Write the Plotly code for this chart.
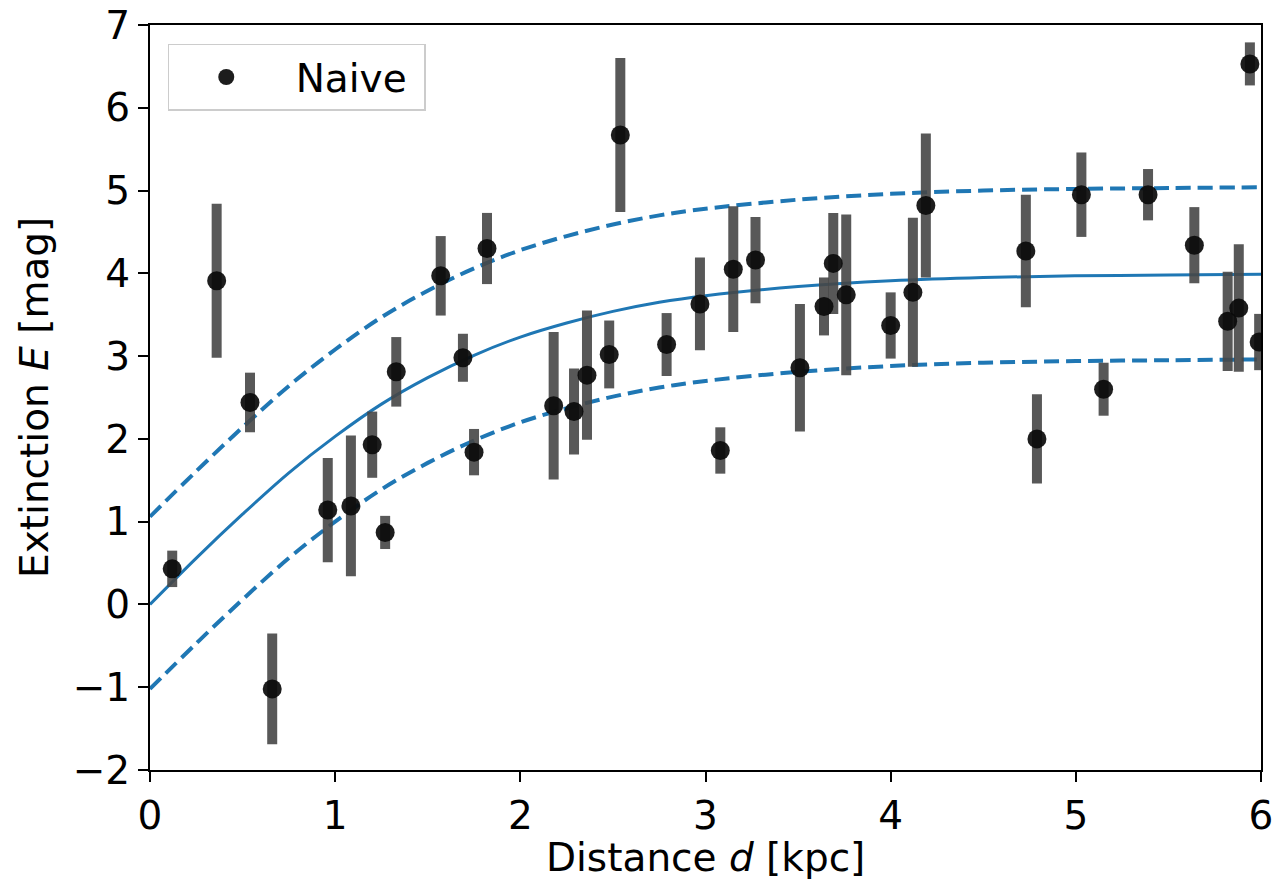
import plotly.graph_objects as go

# Observations (distance kpc, extinction mag, symmetric error)
dist = [0.12, 0.36, 0.54, 0.66, 0.96, 1.085, 1.20, 1.27, 1.33, 1.57, 1.69, 1.75, 1.82,
        2.18, 2.29, 2.36, 2.48, 2.54, 2.79, 2.97, 3.08, 3.15, 3.27, 3.51, 3.64, 3.69,
        3.76, 4.00, 4.12, 4.19, 4.73, 4.79, 5.03, 5.15, 5.39, 5.64, 5.82, 5.88, 5.94, 5.99]
ext = [0.43, 3.91, 2.44, -1.02, 1.14, 1.19, 1.93, 0.87, 2.81, 3.97, 2.98, 1.84, 4.30,
       2.40, 2.33, 2.77, 3.02, 5.67, 3.14, 3.63, 1.86, 4.05, 4.16, 2.86, 3.60, 4.12,
       3.74, 3.37, 3.77, 4.82, 4.27, 2.00, 4.95, 2.60, 4.95, 4.34, 3.42, 3.58, 6.53, 3.17]
ext_err = [0.22, 0.93, 0.36, 0.67, 0.63, 0.85, 0.40, 0.20, 0.42, 0.48, 0.29, 0.28, 0.43,
           0.89, 0.52, 0.78, 0.41, 0.93, 0.38, 0.56, 0.28, 0.76, 0.52, 0.77, 0.35, 0.61,
           0.97, 0.40, 0.90, 0.87, 0.68, 0.54, 0.51, 0.32, 0.31, 0.46, 0.60, 0.77, 0.26, 0.34]

# Model curve and its band
curve_d = [0, 0.25, 0.5, 0.75, 1.0, 1.25, 1.5, 1.75, 2.0, 2.25, 2.5, 2.75, 3.0,
           3.5, 4.0, 4.5, 5.0, 5.5, 6.0]
curve_mid = [0.0, 0.56, 1.09, 1.59, 2.03, 2.42, 2.74, 3.01, 3.23, 3.40, 3.54, 3.65, 3.73,
             3.84, 3.91, 3.95, 3.97, 3.98, 3.99]
curve_up = [1.06, 1.61, 2.14, 2.64, 3.08, 3.47, 3.79, 4.06, 4.28, 4.45, 4.59, 4.70, 4.78,
            4.89, 4.96, 5.00, 5.02, 5.03, 5.04]
curve_lo = [-1.02, -0.47, 0.06, 0.56, 1.00, 1.39, 1.71, 1.98, 2.20, 2.37, 2.51, 2.62, 2.70,
            2.81, 2.88, 2.92, 2.94, 2.95, 2.96]

x_title = "Distance <i>d</i> [kpc]"
y_title = "Extinction <i>E</i> [mag]"
legend_name = "\u00a0Naive\u00a0"

BLUE = "#1f77b4"
FONT = "DejaVu Sans"
FS = 39

fig = go.Figure()
fig.add_trace(go.Scatter(x=curve_d, y=curve_up, mode="lines", line=dict(color=BLUE, width=4, dash="15px,7px", shape="spline"), showlegend=False, hoverinfo="skip"))
fig.add_trace(go.Scatter(x=curve_d, y=curve_lo, mode="lines", line=dict(color=BLUE, width=4, dash="15px,7px", shape="spline"), showlegend=False, hoverinfo="skip"))
fig.add_trace(go.Scatter(x=curve_d, y=curve_mid, mode="lines", line=dict(color=BLUE, width=3, shape="spline"), showlegend=False, hoverinfo="skip"))
fig.add_trace(go.Scatter(
    x=dist, y=ext, mode="markers", name=legend_name,
    marker=dict(color="rgba(10,10,10,0.92)", size=19, line=dict(width=0)),
    error_y=dict(type="data", array=ext_err, visible=True, thickness=10, width=0, color="rgba(70,70,70,0.9)"),
))

axis_common = dict(
    showline=True, linecolor="black", linewidth=2, mirror=True,
    ticks="outside", ticklen=10, tickwidth=2, tickcolor="black",
    showgrid=False, zeroline=False, dtick=1, automargin=False,
    ticklabeloverflow="allow",
    tickfont=dict(family=FONT, size=FS, color="black"),
)

fig.update_layout(
    width=1272, height=880,
    margin=dict(l=150, r=11, t=25, b=110),
    paper_bgcolor="white", plot_bgcolor="white",
    font=dict(family=FONT, color="black"),
    xaxis=dict(range=[0, 6], **axis_common),
    yaxis=dict(range=[-2, 7], **axis_common),
    legend=dict(x=0.016, y=0.975, xanchor="left", yanchor="top",
                bgcolor="rgba(255,255,255,0.8)", bordercolor="#cccccc", borderwidth=1.5,
                font=dict(family=FONT, size=FS, color="black"), itemwidth=104),
    annotations=[
        dict(text=x_title, xref="paper", yref="paper", x=0.5, y=-0.117, xanchor="center", yanchor="middle",
             showarrow=False, font=dict(family=FONT, size=FS, color="black")),
        dict(text=y_title, xref="paper", yref="paper", x=-0.104, y=0.5, xanchor="center", yanchor="middle",
             textangle=-90, showarrow=False, font=dict(family=FONT, size=FS, color="black")),
    ],
)

fig.write_html("out.html", config={"displayModeBar": False},
               post_script="document.body.style.margin='0';document.body.style.overflow='hidden';")
